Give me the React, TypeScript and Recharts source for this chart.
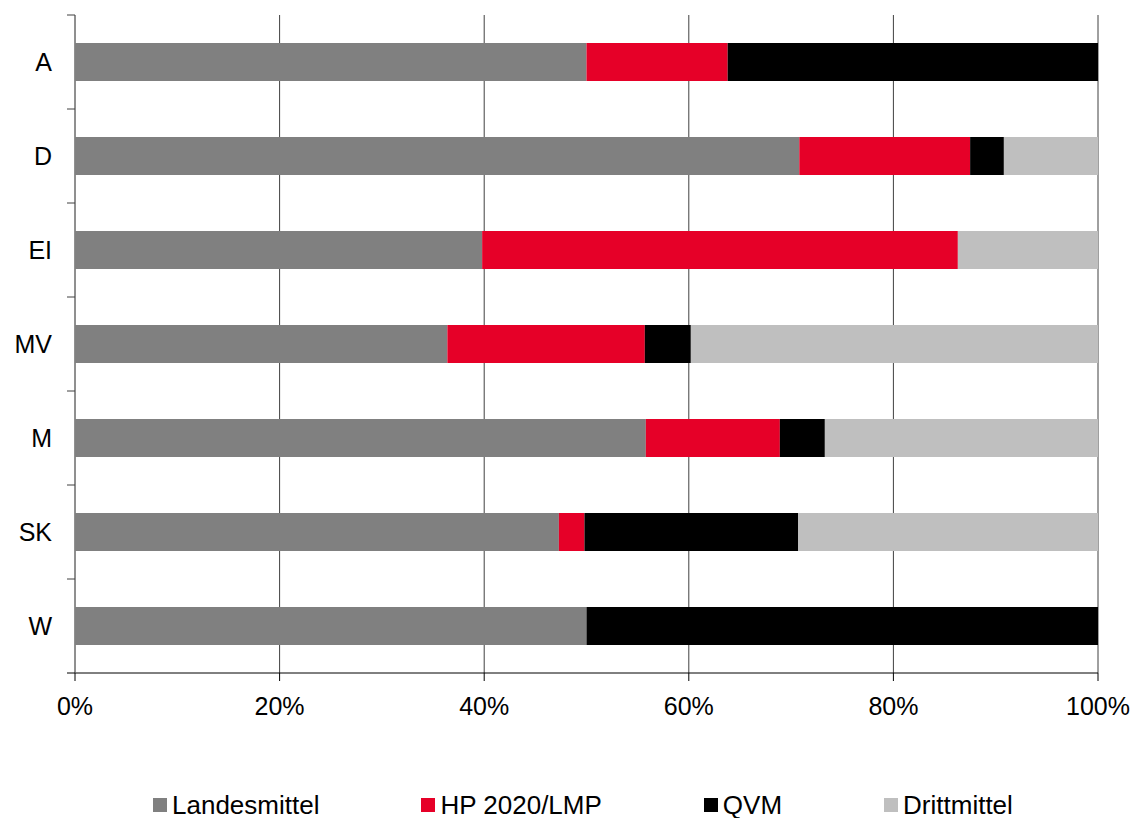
import React from 'react';
import { BarChart, Bar, XAxis, YAxis, CartesianGrid, Legend } from 'recharts';

// Shares per unit (percent of total)
const CATEGORIES = ['A', 'D', 'EI', 'MV', 'M', 'SK', 'W'];
const LANDESMITTEL = [50.0, 70.8, 39.8, 36.4, 55.8, 47.3, 50.0];
const HP_LMP = [13.8, 16.7, 46.5, 19.3, 13.1, 2.5, 0];
const QVM = [36.2, 3.3, 0, 4.5, 4.4, 20.9, 50.0];
const DRITTMITTEL = [0, 9.2, 13.7, 39.8, 26.7, 29.3, 0];
const X_TICKS = [0, 20, 40, 60, 80, 100];

const SERIES = [
  { key: 'landes', name: 'Landesmittel', color: '#808080' },
  { key: 'hp', name: 'HP 2020/LMP', color: '#e60028' },
  { key: 'qvm', name: 'QVM', color: '#000000' },
  { key: 'dritt', name: 'Drittmittel', color: '#bfbfbf' },
];

const data = CATEGORIES.map((c, i) => ({
  cat: c,
  landes: LANDESMITTEL[i],
  hp: HP_LMP[i],
  qvm: QVM[i],
  dritt: DRITTMITTEL[i],
}));

const W = 1134;
const H = 818;
const TOP = 15;
const PLOT_BOTTOM = 673;
const BAND = (PLOT_BOTTOM - TOP) / CATEGORIES.length;
const FONT = '"Liberation Sans", Arial, sans-serif';

const CategoryTick = (props: any) => {
  const { y, payload, index } = props;
  const axisX = 75;
  const last = index === CATEGORIES.length - 1;
  return (
    <g>
      <text x={52} y={y} dy="0.35em" textAnchor="end" fontSize={25} fill="#000" fontFamily={FONT}>
        {payload.value}
      </text>
      <line x1={axisX - 8} x2={axisX} y1={y - BAND / 2} y2={y - BAND / 2} stroke="#404040" />
      {last && <line x1={axisX - 8} x2={axisX} y1={y + BAND / 2} y2={y + BAND / 2} stroke="#000" />}
    </g>
  );
};

const LegendContent = () => (
  <div
    style={{
      display: 'flex',
      justifyContent: 'flex-start',
      gap: 102,
      fontFamily: FONT,
      fontSize: 26,
      lineHeight: '30px',
      color: '#000',
      paddingLeft: 153,
      paddingTop: 2,
    }}
  >
    {SERIES.map((s) => (
      <div key={s.key} style={{ display: 'flex', alignItems: 'center' }}>
        <span style={{ width: 14, height: 14, background: s.color, marginRight: 5, display: 'inline-block' }} />
        <span>{s.name}</span>
      </div>
    ))}
  </div>
);

export default function App() {
  return (
    <div style={{ position: 'absolute', left: 0, top: 0, background: '#fff' }}>
      <BarChart
        width={W}
        height={H}
        data={data}
        layout="vertical"
        margin={{ top: TOP, right: 36, left: 0, bottom: 0 }}
        barSize={38}
      >
        <CartesianGrid horizontal={false} stroke="#404040" strokeWidth={1} />
        <XAxis
          type="number"
          domain={[0, 100]}
          ticks={X_TICKS}
          tickFormatter={(v) => `${v}%`}
          tick={{ fontSize: 25, fill: '#000', fontFamily: FONT }}
          tickSize={8}
          tickMargin={16}
          stroke="#000"
          height={115}
          interval={0}
        />
        <YAxis
          type="category"
          dataKey="cat"
          width={75}
          tick={<CategoryTick />}
          tickLine={false}
          stroke="#808080"
          interval={0}
        />
        <Legend verticalAlign="bottom" height={30} content={<LegendContent />} />
        {SERIES.map((s) => (
          <Bar key={s.key} dataKey={s.key} name={s.name} stackId="a" fill={s.color} isAnimationActive={false} />
        ))}
      </BarChart>
    </div>
  );
}
